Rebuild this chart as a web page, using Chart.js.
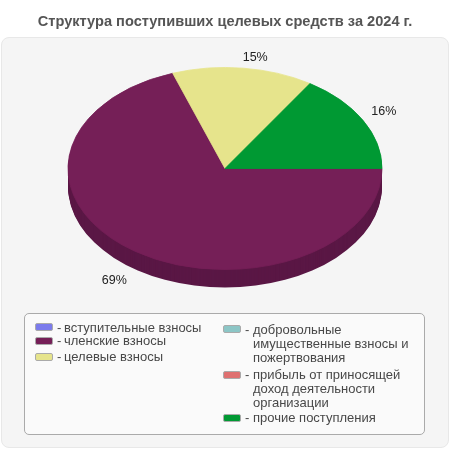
<!DOCTYPE html>
<html>
<head>
<meta charset="utf-8">
<script src="https://cdn.jsdelivr.net/npm/chart.js@4/dist/chart.umd.js"></script>
<style>
html, body { margin: 0; padding: 0; background: #fff; }
#wrap { position: relative; width: 450px; height: 450px; overflow: hidden; font-family: "Liberation Sans", Arial, sans-serif; }
#panel { position: absolute; left: 1px; top: 37px; width: 446px; height: 409px; background: #f5f5f5; border: 1px solid #e8e8e8; border-radius: 8px; }
#myChart { position: absolute; left: 0; top: 0; }
#legendBox { position: absolute; left: 24px; top: 313px; width: 399px; height: 120px; background: #fafafa; border: 1px solid #aaa; border-radius: 5px; }
.swatch { position: absolute; width: 16px; height: 6px; border: 1px solid #aaa; border-radius: 2px; }
.dash, .txt { position: absolute; font-size: 13px; line-height: 14px; color: #484848; }
.txt { width: 165px; }
</style>
</head>
<body>
<div id="wrap">
  <div id="panel"></div>
  <div id="legendBox"></div>
  <canvas id="myChart" width="450" height="450"></canvas>
</div>
<script>
var titleText = 'Структура поступивших целевых средств за 2024 г.';
var categories = ['вступительные взносы', 'членские взносы', 'целевые взносы',
  'добровольные имущественные взносы и пожертвования',
  'прибыль от приносящей доход деятельности организации', 'прочие поступления'];
// slice sizes, the printed labels are rounded differently
var shares = [0, 69.6, 14.5, 0, 0, 15.9];
var shareLabels = ['', '69%', '15%', '', '', '16%'];
var sliceColors = ['#7b7bec', '#751f57', '#e6e48c', '#8cc6c6', '#de7070', '#009933'];
var sideColors = ['#5f5fb8', '#5a1745', '#b3b16c', '#6c9999', '#ab5656', '#007527'];

// legend rows: left, top of swatch, top of text
var legendRows = [[35, 323, 321], [35, 337, 334], [35, 353, 350], [223, 325, 323], [223, 371, 368], [223, 414, 411]];

var centerY = 168.5, radiusY = 101, depth = 18;
var labelOffsets = [null, [-20, 30], [12, -11], null, null, [21, -9]];

var pie3d = {
  id: 'pie3d',
  beforeDatasetDraw: function (chart, args) {
    var ctx = chart.ctx;
    var arcs = args.meta.data;
    var cx = arcs[0].x, cy = arcs[0].y, r = arcs[0].outerRadius;
    var k = radiusY / r;

    // side wall, stacked copies of the slices
    for (var d = depth; d > 0; d--) {
      arcs.forEach(function (a, i) {
        if (!shares[i]) return;
        ctx.save();
        ctx.translate(cx, centerY + d);
        ctx.scale(1, k);
        ctx.beginPath();
        ctx.moveTo(0, 0);
        ctx.arc(0, 0, r, a.startAngle, a.endAngle);
        ctx.closePath();
        ctx.fillStyle = sideColors[i];
        ctx.fill();
        ctx.restore();
      });
    }

    // top face, the library's own arcs squashed to an ellipse
    ctx.save();
    ctx.translate(0, centerY);
    ctx.scale(1, k);
    ctx.translate(0, -cy);
    arcs.forEach(function (a, i) {
      if (shares[i]) a.draw(ctx);
    });
    ctx.restore();

    // percent labels
    ctx.save();
    ctx.font = '12.5px "Liberation Sans", Arial, sans-serif';
    ctx.fillStyle = '#222';
    ctx.textAlign = 'center';
    ctx.textBaseline = 'middle';
    arcs.forEach(function (a, i) {
      if (!shares[i]) return;
      var mid = (a.startAngle + a.endAngle) / 2;
      var x = cx + r * Math.cos(mid) + labelOffsets[i][0];
      var y = centerY + radiusY * Math.sin(mid) + labelOffsets[i][1];
      ctx.fillText(shareLabels[i], x, y);
    });
    ctx.restore();
    return false;
  }
};

new Chart(document.getElementById('myChart'), {
  type: 'pie',
  data: {
    labels: categories,
    datasets: [{
      data: shares,
      backgroundColor: sliceColors,
      borderColor: sliceColors,
      borderWidth: 1,
      radius: 157
    }]
  },
  plugins: [pie3d],
  options: {
    responsive: false,
    animation: false,
    rotation: 90,
    plugins: {
      legend: { display: false },
      tooltip: { enabled: false },
      title: {
        display: true,
        text: titleText,
        color: '#555',
        font: { family: '"Liberation Sans", Arial, sans-serif', size: 14.6, weight: 'bold' },
        padding: { top: 13, bottom: 4 }
      }
    }
  }
});

// html legend
var wrap = document.getElementById('wrap');
categories.forEach(function (name, i) {
  var row = legendRows[i];
  var sw = document.createElement('div');
  sw.className = 'swatch';
  sw.style.left = row[0] + 'px';
  sw.style.top = row[1] + 'px';
  sw.style.background = sliceColors[i];
  wrap.appendChild(sw);

  var dash = document.createElement('div');
  dash.className = 'dash';
  dash.textContent = '-';
  dash.style.left = (row[0] + 22) + 'px';
  dash.style.top = row[2] + 'px';
  wrap.appendChild(dash);

  var txt = document.createElement('div');
  txt.className = 'txt';
  txt.textContent = name;
  txt.style.left = (row[0] + (i < 3 ? 29 : 30)) + 'px';
  txt.style.top = row[2] + 'px';
  wrap.appendChild(txt);
});
</script>
</body>
</html>
